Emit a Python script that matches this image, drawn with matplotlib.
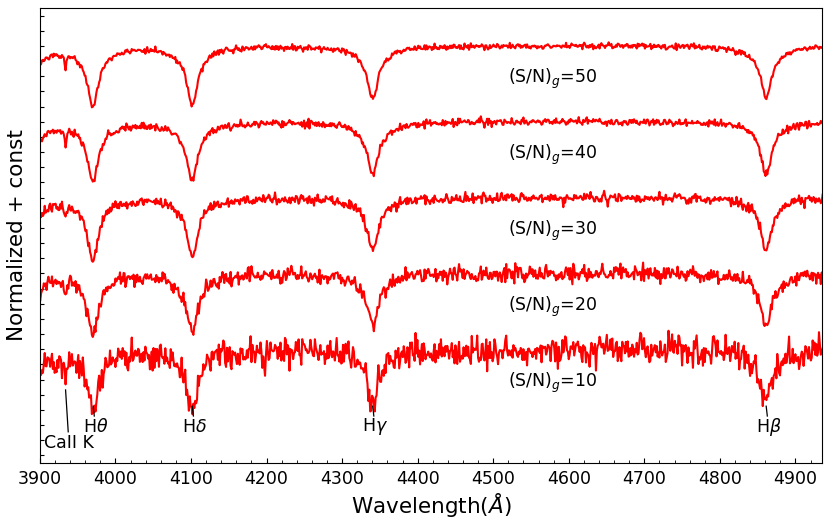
import numpy as np
import matplotlib
matplotlib.use('Agg')
import matplotlib.pyplot as plt
from matplotlib.ticker import MultipleLocator

# ─── Data ────────────────────────────────────────────────────────────────────
SN_VALUES = [10, 20, 30, 40, 50]
OFFSETS = [0.0, 0.5, 1.0, 1.5, 2.0]          # vertical shift of each spectrum

# absorption lines of the template (centre [Å], core depth, core half-width [Å],
# broad-wing depth, broad-wing half-width [Å])
LINE_CENTERS = [3889.0, 3933.7, 3970.1, 4101.7, 4340.5, 4861.3]
LINE_DEPTHS = [0.29, 0.10, 0.34, 0.335, 0.30, 0.29]
LINE_WIDTHS = [7.5, 1.3, 8.5, 8.5, 8.5, 8.5]
WING_DEPTHS = [0.04, 0.0, 0.05, 0.05, 0.05, 0.05]
WING_WIDTHS = [28.0, 1.0, 30.0, 30.0, 30.0, 28.0]

NOISE_PER_SN = 0.5        # continuum scatter ~ 0.5 / (S/N), as seen in the plot
PIXEL_STEP = 1.2          # Å per spectral pixel

# line identifications
ID_LABELS = [r'H$\theta$', r'H$\delta$', r'H$\gamma$', r'H$\beta$']
ID_WAVES = [3970.5, 4101.7, 4340.5, 4861.3]

WAVE_MIN, WAVE_MAX = 3900, 4935

# ─── Build spectra ───────────────────────────────────────────────────────────
wave = np.arange(WAVE_MIN - 2, WAVE_MAX + 2, PIXEL_STEP)
template = np.ones_like(wave)
for c0, d0, g0, dw, gw in zip(LINE_CENTERS, LINE_DEPTHS, LINE_WIDTHS,
                              WING_DEPTHS, WING_WIDTHS):
    template -= d0 / (1.0 + ((wave - c0) / g0) ** 2)
    template -= dw / (1.0 + ((wave - c0) / gw) ** 2)

rng = np.random.default_rng(7)

fig = plt.figure(figsize=(8.31, 5.28), dpi=100)
ax = fig.add_axes([0.048, 0.123, 0.941, 0.862])

for sn, off in zip(SN_VALUES, OFFSETS):
    flux = template + rng.normal(0.0, NOISE_PER_SN / sn, wave.size)
    ax.plot(wave, flux + off, color='red', lw=1.5)
    ax.text(4520, 1.0 + off - 0.22, r'(S/N)$_g$=%d' % sn,
            fontsize=12.5, ha='left', va='center')

# line id marks
for lbl, w0 in zip(ID_LABELS, ID_WAVES):
    ax.plot([w0, w0 + 1.5], [0.625, 0.56], color='black', lw=0.9)
    ax.text(w0 + 3, 0.49, lbl, fontsize=12.5, ha='center', va='center')

ax.plot([3934.0, 3937.5], [0.732, 0.456], color='black', lw=0.9)
ax.text(3938, 0.382, 'CaII K', fontsize=12.5, ha='center', va='center')

ax.set_xlim(WAVE_MIN, WAVE_MAX)
ax.set_ylim(0.25, 3.25)
ax.xaxis.set_major_locator(MultipleLocator(100))
ax.xaxis.set_minor_locator(MultipleLocator(20))
ax.yaxis.set_major_locator(MultipleLocator(0.1))
ax.set_yticklabels([])
ax.tick_params(axis='both', which='both', direction='in')
ax.tick_params(axis='x', which='major', length=3.5, labelsize=12.5, pad=5)
ax.tick_params(axis='x', which='minor', length=2)
ax.tick_params(axis='y', which='major', length=2.8)

ax.set_xlabel(r'Wavelength($\AA$)', fontsize=15.5, labelpad=2)
ax.set_ylabel('Normalized + const', fontsize=15.5, labelpad=6)

fig.savefig('out.png', dpi=100)
